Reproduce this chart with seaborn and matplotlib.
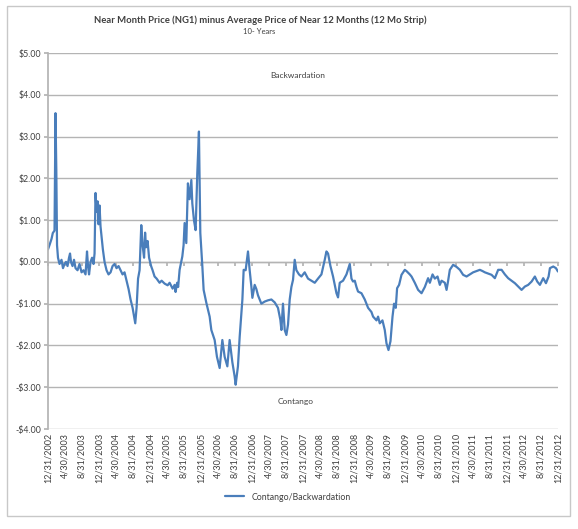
import numpy as np
import pandas as pd
import matplotlib
matplotlib.use('Agg')
import matplotlib.pyplot as plt
from matplotlib.ticker import FuncFormatter
from matplotlib.patches import Rectangle
import seaborn as sns

# decimal year of each reading and the spread ($)
t_year = [
    2003.000, 2003.029, 2003.069, 2003.094, 2003.128, 2003.147, 2003.163, 2003.177, 2003.196, 2003.226,
    2003.265, 2003.294, 2003.324, 2003.353, 2003.383, 2003.412, 2003.432, 2003.451, 2003.481, 2003.510,
    2003.540, 2003.579, 2003.618, 2003.658, 2003.697, 2003.736, 2003.765, 2003.785, 2003.805, 2003.834,
    2003.864, 2003.893, 2003.913, 2003.932, 2003.952, 2003.972, 2003.991, 2004.011, 2004.030, 2004.050,
    2004.076, 2004.109, 2004.148, 2004.187, 2004.227, 2004.266, 2004.305, 2004.344, 2004.384, 2004.423,
    2004.462, 2004.501, 2004.541, 2004.580, 2004.619, 2004.659, 2004.688, 2004.711, 2004.737, 2004.766,
    2004.796, 2004.829, 2004.855, 2004.884, 2004.904, 2004.923, 2004.953, 2004.982, 2005.022, 2005.051,
    2005.090, 2005.130, 2005.188, 2005.228, 2005.287, 2005.346, 2005.385, 2005.444, 2005.483, 2005.502,
    2005.532, 2005.552, 2005.581, 2005.634, 2005.659, 2005.679, 2005.712, 2005.744, 2005.777, 2005.811,
    2005.830, 2005.862, 2005.895, 2005.928, 2005.944, 2005.960, 2005.987, 2006.027, 2006.052, 2006.105,
    2006.170, 2006.203, 2006.268, 2006.313, 2006.366, 2006.419, 2006.464, 2006.517, 2006.562, 2006.615,
    2006.660, 2006.680, 2006.725, 2006.759, 2006.812, 2006.837, 2006.876, 2006.922, 2006.955, 2006.988,
    2007.008, 2007.053, 2007.086, 2007.118, 2007.184, 2007.249, 2007.314, 2007.381, 2007.446, 2007.510,
    2007.557, 2007.577, 2007.608, 2007.642, 2007.675, 2007.707, 2007.740, 2007.773, 2007.805, 2007.838,
    2007.871, 2007.922, 2007.970, 2008.034, 2008.099, 2008.166, 2008.231, 2008.295, 2008.362, 2008.427,
    2008.460, 2008.492, 2008.539, 2008.590, 2008.657, 2008.688, 2008.721, 2008.786, 2008.853, 2008.904,
    2008.918, 2008.951, 2008.982, 2009.016, 2009.049, 2009.080, 2009.147, 2009.212, 2009.277, 2009.343,
    2009.375, 2009.442, 2009.473, 2009.506, 2009.559, 2009.604, 2009.638, 2009.677, 2009.716, 2009.756,
    2009.787, 2009.820, 2009.846, 2009.885, 2009.932, 2009.997, 2010.030, 2010.095, 2010.129, 2010.193,
    2010.258, 2010.325, 2010.390, 2010.454, 2010.488, 2010.541, 2010.586, 2010.639, 2010.684, 2010.718,
    2010.782, 2010.816, 2010.847, 2010.880, 2010.945, 2011.012, 2011.077, 2011.141, 2011.208, 2011.273,
    2011.337, 2011.404, 2011.469, 2011.522, 2011.567, 2011.632, 2011.699, 2011.763, 2011.828, 2011.895,
    2011.960, 2012.024, 2012.091, 2012.156, 2012.221, 2012.287, 2012.352, 2012.417, 2012.484, 2012.548,
    2012.594, 2012.647, 2012.711, 2012.765, 2012.817, 2012.843, 2012.908, 2012.961, 2013.000,
]
spread = [
    0.30, 0.40, 0.55, 0.69, 0.75, 3.56, 2.20, 0.40, 0.10, -0.05,
    0.05, -0.15, -0.05, 0.00, -0.10, 0.10, 0.20, 0.00, -0.10, 0.05,
    -0.15, -0.20, -0.05, -0.25, -0.20, -0.30, 0.25, -0.10, -0.30, 0.00,
    0.10, -0.05, 0.20, 1.65, 1.20, 1.45, 0.90, 1.35, 0.85, 0.60,
    0.30, 0.00, -0.20, -0.30, -0.25, -0.10, -0.05, -0.15, -0.10, -0.20,
    -0.30, -0.25, -0.45, -0.65, -0.90, -1.10, -1.30, -1.47, -1.10, -0.40,
    -0.20, 0.88, 0.40, 0.10, 0.70, 0.35, 0.50, 0.10, -0.10, -0.20,
    -0.35, -0.40, -0.50, -0.45, -0.52, -0.56, -0.50, -0.64, -0.55, -0.72,
    -0.50, -0.60, -0.19, 0.13, 0.40, 0.93, 0.45, 1.88, 1.50, 1.96,
    1.40, 1.00, 0.76, 2.13, 2.60, 3.12, 0.69, -0.11, -0.67, -0.98,
    -1.31, -1.63, -1.87, -2.27, -2.54, -1.87, -2.27, -2.50, -1.87, -2.40,
    -2.74, -2.94, -2.50, -1.79, -0.90, -0.19, -0.20, 0.25, -0.20, -0.59,
    -0.86, -0.55, -0.65, -0.80, -1.00, -0.95, -0.92, -0.90, -0.97, -1.10,
    -1.39, -1.63, -1.00, -1.63, -1.75, -1.50, -0.90, -0.60, -0.43, 0.05,
    -0.20, -0.30, -0.35, -0.25, -0.40, -0.45, -0.50, -0.40, -0.30, 0.05,
    0.25, 0.20, -0.10, -0.35, -0.75, -0.85, -0.50, -0.45, -0.30, -0.11,
    -0.05, -0.40, -0.47, -0.45, -0.60, -0.71, -0.75, -0.90, -1.10, -1.20,
    -1.31, -1.40, -1.31, -1.47, -1.40, -1.63, -1.95, -2.11, -1.90, -1.31,
    -1.00, -1.10, -0.63, -0.55, -0.31, -0.19, -0.22, -0.30, -0.35, -0.50,
    -0.67, -0.75, -0.60, -0.39, -0.50, -0.30, -0.40, -0.35, -0.55, -0.45,
    -0.50, -0.67, -0.45, -0.19, -0.07, -0.12, -0.19, -0.31, -0.35, -0.30,
    -0.25, -0.22, -0.19, -0.22, -0.25, -0.28, -0.31, -0.39, -0.19, -0.19,
    -0.30, -0.39, -0.45, -0.51, -0.59, -0.67, -0.59, -0.55, -0.47, -0.35,
    -0.47, -0.55, -0.39, -0.51, -0.35, -0.15, -0.11, -0.15, -0.23,
]

title = 'Near Month Price (NG1) minus Average Price of Near 12 Months (12 Mo Strip)'
subtitle = '10- Years'
series_name = 'Contango/Backwardation'

# tick labels every four months, 12/31/2002 .. 12/31/2012
tick_labels = ['12/31/2002']
for yr in range(2003, 2013):
    tick_labels += [f'4/30/{yr}', f'8/31/{yr}', f'12/31/{yr}']
tick_dates = pd.to_datetime(tick_labels, format='%m/%d/%Y')

base = pd.Timestamp('2002-12-31')
dates = base + pd.to_timedelta((np.array(t_year) - 2003.0) * 365.25, unit='D')
df = pd.DataFrame({'date': dates, 'value': spread})

sns.set_theme(style='white')
plt.rcParams['font.family'] = ['Lato', 'DejaVu Sans']

txt = '#404040'
grid = '#b4b4b4'
blue = '#4a7ebb'

fig = plt.figure(figsize=(5.78, 5.29), dpi=100)
ax = fig.add_axes([48 / 578, 1 - 429 / 529, 510 / 578, 376 / 529])

sns.lineplot(data=df, x='date', y='value', ax=ax, color=blue, lw=1.6, label=series_name)

ax.set_ylim(-4, 5)
ax.set_yticks(range(-4, 6))
ax.yaxis.set_major_formatter(FuncFormatter(lambda v, p: f'${v:.2f}' if v >= 0 else f'-${-v:.2f}'))
ax.set_xlim(base, pd.Timestamp('2012-12-31'))
ax.set_xticks(tick_dates)
ax.set_xticklabels(tick_labels, rotation=90, fontsize=6.5, color=txt)
ax.tick_params(axis='x', length=0, pad=3)
ax.tick_params(axis='y', length=3, direction='out', color=grid, labelsize=6.3, labelcolor=txt, left=True, pad=2)
ax.grid(axis='y', color=grid, lw=1.0)
ax.set_xlabel('')
ax.set_ylabel('')
for s in ['top', 'right', 'bottom']:
    ax.spines[s].set_visible(False)
ax.spines['left'].set_color(grid)

# category axis drawn across the zero line with small tick marks
sec = ax.secondary_xaxis(4 / 9)
sec.set_xticks(tick_dates)
sec.tick_params(axis='x', length=3, direction='out', color=grid, labelbottom=False)
sec.spines['bottom'].set_color(grid)
sec.spines['bottom'].set_linewidth(1.0)

ax.text(0.49, 0.941, 'Backwardation', transform=ax.transAxes, ha='center', va='center', fontsize=6, color=txt)
ax.text(0.486, 0.072, 'Contango', transform=ax.transAxes, ha='center', va='center', fontsize=6, color=txt)

fig.text(260 / 578, 1 - 20 / 529, title, ha='center', va='center', fontsize=6.8, fontweight='bold', color=txt)
fig.text(259 / 578, 1 - 31 / 529, subtitle, ha='center', va='center', fontsize=5.5, color=txt)

ax.legend(loc='center', bbox_to_anchor=(0.47, -0.181), frameon=False, fontsize=6.3,
          handlelength=2.2, labelcolor=txt)

fig.patches.append(Rectangle((7 / 578, 1 - 516 / 529), 563 / 578, 510 / 529,
                             transform=fig.transFigure, fill=False, ec='#c8c8c8', lw=1.0))

fig.savefig('out.png', dpi=100)
